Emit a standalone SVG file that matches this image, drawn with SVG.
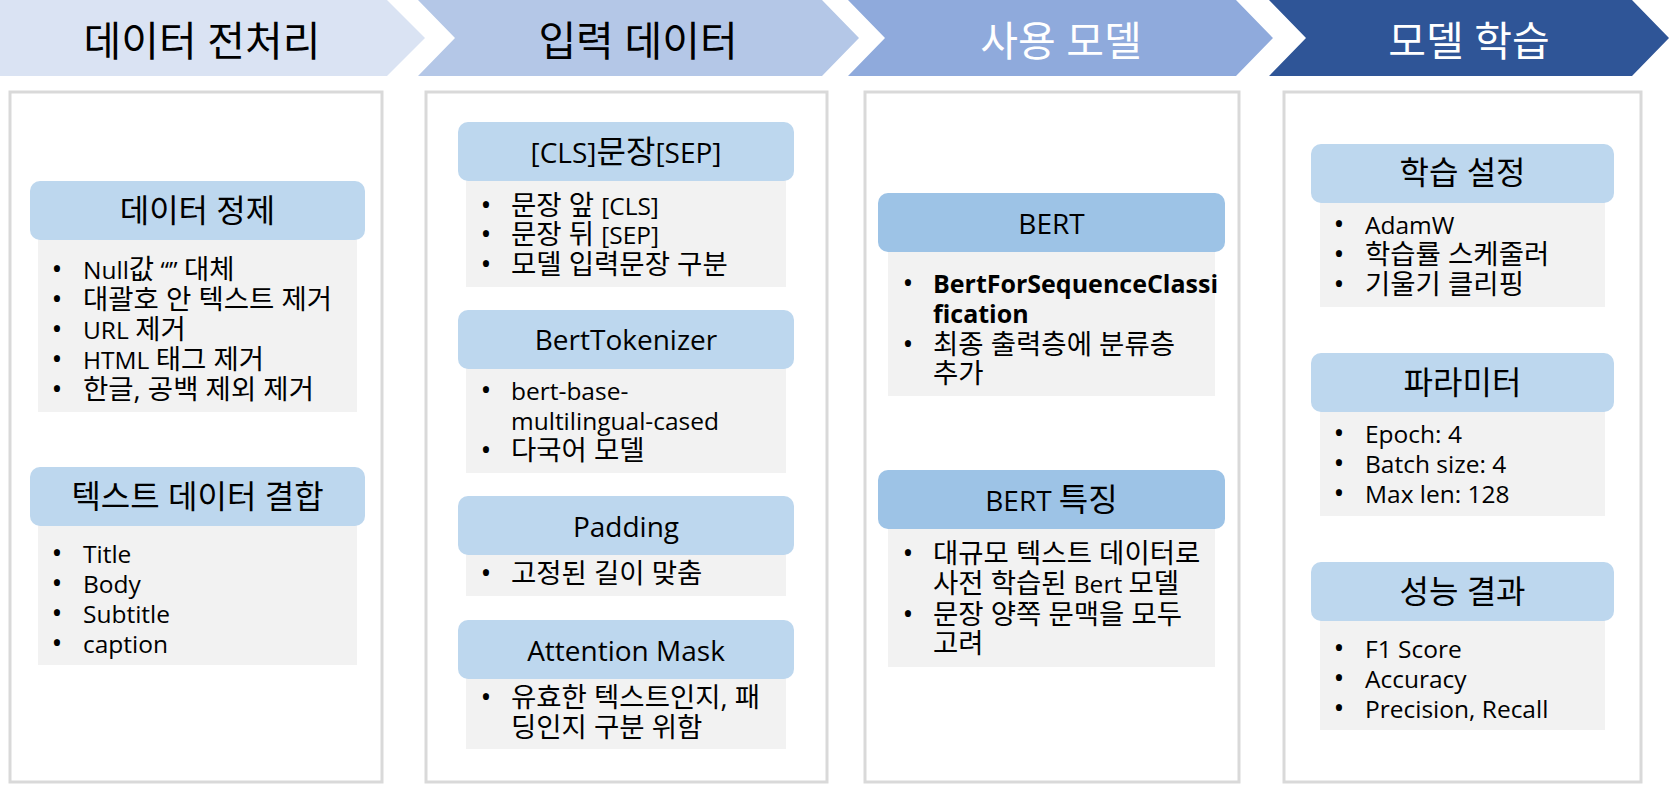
<svg xmlns="http://www.w3.org/2000/svg" width="1669" height="785" viewBox="0 0 1669 785">
<style>
text{font-family:"Open Sans","Noto Sans CJK KR",sans-serif;fill:#000}
.t{font-size:41px;text-anchor:middle}
.w{fill:#fff}
.col{fill:#fff;stroke:#D9D9D9;stroke-width:3}
.hd{fill:#BDD7EE}
.hd2{fill:#9DC3E6}
.bd{fill:#F2F2F2}
.h{font-size:32px;text-anchor:middle}
.hl{font-size:28px}
.b{font-size:27.5px}
.l{font-size:24.5px}
.d{font-size:29px}
.bold{font-weight:bold;font-size:25px}
</style>
<g id="stage1">
<polygon points="0,0 387,0 425,38 387,76 0,76" fill="#DAE3F3"/>
<text class="t" x="202" y="56">데이터 전처리</text>
</g>
<g id="stage2">
<polygon points="418,0 822,0 859,38 822,76 418,76 455,38" fill="#B4C7E7"/>
<text class="t" x="638" y="56">입력 데이터</text>
</g>
<g id="stage3">
<polygon points="848,0 1236,0 1273,38 1236,76 848,76 885,38" fill="#8FAADC"/>
<text class="t w" x="1061" y="56">사용 모델</text>
</g>
<g id="stage4">
<polygon points="1269,0 1632,0 1669,38 1632,76 1269,76 1306,38" fill="#2F5597"/>
<text class="t w" x="1469" y="56">모델 학습</text>
</g>

<g id="col1">
<rect class="col" x="10" y="92" width="372" height="690"/>
</g>
<g id="col2">
<rect class="col" x="426" y="92" width="401" height="690"/>
</g>
<g id="col3">
<rect class="col" x="865" y="92" width="374" height="690"/>
</g>
<g id="col4">
<rect class="col" x="1284" y="92" width="357" height="690"/>
</g>

<g id="cleaning">
<rect class="bd" x="38" y="238" width="319" height="174"/>
<rect class="hd" x="30" y="181" width="335" height="59" rx="10"/>
<text class="h" x="197.5" y="222">데이터 정제</text>
<text class="b"><tspan class="d" x="57" y="279" text-anchor="middle">•</tspan><tspan class="l" x="83" y="279">Null</tspan>값<tspan class="l"> “” </tspan>대체
<tspan class="d" x="57" y="309" text-anchor="middle">•</tspan><tspan x="83" y="309">대괄호 안 텍스트 제거</tspan>
<tspan class="d" x="57" y="339" text-anchor="middle">•</tspan><tspan class="l" x="83" y="339">URL </tspan>제거
<tspan class="d" x="57" y="369" text-anchor="middle">•</tspan><tspan class="l" x="83" y="369">HTML </tspan>태그 제거
<tspan class="d" x="57" y="399" text-anchor="middle">•</tspan><tspan x="83" y="399">한글, 공백 제외 제거</tspan></text>
</g>
<g id="combine">
<rect class="bd" x="38" y="524" width="319" height="141"/>
<rect class="hd" x="30" y="467" width="335" height="59" rx="10"/>
<text class="h" x="197.5" y="508">텍스트 데이터 결합</text>
<text class="l"><tspan class="d" x="57" y="563" text-anchor="middle">•</tspan><tspan x="83" y="563">Title</tspan>
<tspan class="d" x="57" y="593" text-anchor="middle">•</tspan><tspan x="83" y="593">Body</tspan>
<tspan class="d" x="57" y="623" text-anchor="middle">•</tspan><tspan x="83" y="623">Subtitle</tspan>
<tspan class="d" x="57" y="653" text-anchor="middle">•</tspan><tspan x="83" y="653">caption</tspan></text>
</g>

<g id="clssep">
<rect class="bd" x="466" y="179" width="320" height="108"/>
<rect class="hd" x="458" y="122" width="336" height="59" rx="10"/>
<text class="h" x="626" y="163"><tspan class="hl">[CLS]</tspan>문장<tspan class="hl">[SEP]</tspan></text>
<text class="b"><tspan class="d" x="486" y="215" text-anchor="middle">•</tspan><tspan x="511" y="215">문장 앞 </tspan><tspan class="l">[CLS]</tspan>
<tspan class="d" x="486" y="244" text-anchor="middle">•</tspan><tspan x="511" y="244">문장 뒤 </tspan><tspan class="l">[SEP]</tspan>
<tspan class="d" x="486" y="274" text-anchor="middle">•</tspan><tspan x="511" y="274">모델 입력문장 구분</tspan></text>
</g>
<g id="tokenizer">
<rect class="bd" x="466" y="367" width="320" height="106"/>
<rect class="hd" x="458" y="310" width="336" height="59" rx="10"/>
<text class="h hl" x="626" y="350">BertTokenizer</text>
<text class="b"><tspan class="d" x="486" y="400" text-anchor="middle">•</tspan><tspan class="l" x="511" y="400">bert-base-</tspan>
<tspan class="l" x="511" y="430">multilingual-cased</tspan>
<tspan class="d" x="486" y="460" text-anchor="middle">•</tspan><tspan x="511" y="460">다국어 모델</tspan></text>
</g>
<g id="padding">
<rect class="bd" x="466" y="553" width="320" height="43"/>
<rect class="hd" x="458" y="496" width="336" height="59" rx="10"/>
<text class="h hl" x="626" y="537">Padding</text>
<text class="b"><tspan class="d" x="486" y="583" text-anchor="middle">•</tspan><tspan x="511" y="583">고정된 길이 맞춤</tspan></text>
</g>
<g id="attention">
<rect class="bd" x="466" y="677" width="320" height="72"/>
<rect class="hd" x="458" y="620" width="336" height="59" rx="10"/>
<text class="h hl" x="626" y="661">Attention Mask</text>
<text class="b"><tspan class="d" x="486" y="707" text-anchor="middle">•</tspan><tspan x="511" y="707">유효한 텍스트인지, 패</tspan>
<tspan x="511" y="737">딩인지 구분 위함</tspan></text>
</g>

<g id="bert">
<rect class="bd" x="888" y="250" width="327" height="146"/>
<rect class="hd2" x="878" y="193" width="347" height="59" rx="10"/>
<text class="h hl" x="1051.5" y="234">BERT</text>
<text class="b"><tspan class="d" x="908" y="293" text-anchor="middle">•</tspan><tspan class="bold" x="933" y="293">BertForSequenceClassi</tspan>
<tspan class="bold" x="933" y="323">fication</tspan>
<tspan class="d" x="908" y="354" text-anchor="middle">•</tspan><tspan x="933" y="354">최종 출력층에 분류층</tspan>
<tspan x="933" y="383">추가</tspan></text>
</g>
<g id="bertfeat">
<rect class="bd" x="888" y="527" width="327" height="140"/>
<rect class="hd2" x="878" y="470" width="347" height="59" rx="10"/>
<text class="h" x="1051.5" y="511"><tspan class="hl">BERT </tspan>특징</text>
<text class="b"><tspan class="d" x="908" y="563" text-anchor="middle">•</tspan><tspan x="933" y="563">대규모 텍스트 데이터로</tspan>
<tspan x="933" y="593">사전 학습된 </tspan><tspan class="l">Bert </tspan>모델
<tspan class="d" x="908" y="624" text-anchor="middle">•</tspan><tspan x="933" y="624">문장 양쪽 문맥을 모두</tspan>
<tspan x="933" y="653">고려</tspan></text>
</g>

<g id="trainset">
<rect class="bd" x="1320" y="201" width="285" height="106"/>
<rect class="hd" x="1311" y="144" width="303" height="59" rx="10"/>
<text class="h" x="1462.5" y="184">학습 설정</text>
<text class="b"><tspan class="d" x="1339" y="234" text-anchor="middle">•</tspan><tspan class="l" x="1365" y="234">AdamW</tspan>
<tspan class="d" x="1339" y="264" text-anchor="middle">•</tspan><tspan x="1365" y="264">학습률 스케줄러</tspan>
<tspan class="d" x="1339" y="294" text-anchor="middle">•</tspan><tspan x="1365" y="294">기울기 클리핑</tspan></text>
</g>
<g id="params">
<rect class="bd" x="1320" y="410" width="285" height="106"/>
<rect class="hd" x="1311" y="353" width="303" height="59" rx="10"/>
<text class="h" x="1462.5" y="394">파라미터</text>
<text class="l"><tspan class="d" x="1339" y="443" text-anchor="middle">•</tspan><tspan x="1365" y="443">Epoch: 4</tspan>
<tspan class="d" x="1339" y="473" text-anchor="middle">•</tspan><tspan x="1365" y="473">Batch size: 4</tspan>
<tspan class="d" x="1339" y="503" text-anchor="middle">•</tspan><tspan x="1365" y="503">Max len: 128</tspan></text>
</g>
<g id="results">
<rect class="bd" x="1320" y="619" width="285" height="111"/>
<rect class="hd" x="1311" y="562" width="303" height="59" rx="10"/>
<text class="h" x="1462.5" y="603">성능 결과</text>
<text class="l"><tspan class="d" x="1339" y="658" text-anchor="middle">•</tspan><tspan x="1365" y="658">F1 Score</tspan>
<tspan class="d" x="1339" y="688" text-anchor="middle">•</tspan><tspan x="1365" y="688">Accuracy</tspan>
<tspan class="d" x="1339" y="718" text-anchor="middle">•</tspan><tspan x="1365" y="718">Precision, Recall</tspan></text>
</g>
<g id="connectors"></g>
</svg>
